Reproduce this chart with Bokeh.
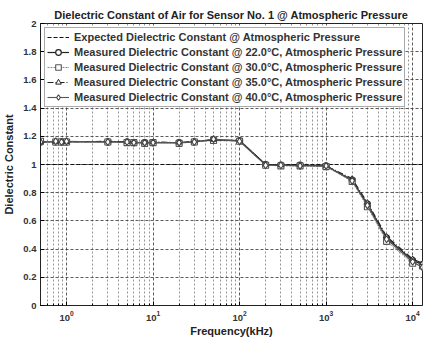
from bokeh.plotting import figure
from bokeh.models import FixedTicker, Legend, LegendItem, Range1d, LogTickFormatter
from bokeh.embed import file_html
from bokeh.resources import INLINE

freq = [0.5, 0.75, 0.875, 1, 3, 5, 6, 8, 10, 20, 30, 50, 100, 200, 300, 500, 1000, 2000, 3000, 5000, 10000, 13000]
expected = [1.0] * len(freq)
s22 = [1.16, 1.16, 1.16, 1.16, 1.16, 1.16, 1.155, 1.155, 1.155, 1.155, 1.16, 1.175, 1.17, 1.0, 0.995, 0.995, 0.99, 0.89, 0.72, 0.48, 0.32, 0.29]
s30 = [1.165, 1.16, 1.16, 1.16, 1.16, 1.155, 1.155, 1.15, 1.155, 1.15, 1.16, 1.17, 1.165, 0.995, 0.99, 0.99, 0.985, 0.88, 0.70, 0.455, 0.30, 0.28]
s35 = [1.16, 1.16, 1.165, 1.16, 1.165, 1.16, 1.16, 1.155, 1.16, 1.155, 1.165, 1.175, 1.17, 1.0, 0.995, 0.995, 0.99, 0.90, 0.73, 0.49, 0.33, 0.30]
s40 = [1.16, 1.165, 1.16, 1.165, 1.16, 1.16, 1.155, 1.155, 1.155, 1.155, 1.16, 1.18, 1.165, 0.995, 0.995, 0.99, 0.99, 0.885, 0.71, 0.47, 0.31, 0.27]

y_ticks = [0, 0.2, 0.4, 0.6, 0.8, 1.0, 1.2, 1.4, 1.6, 1.8, 2.0]
x_major = [1, 10, 100, 1000, 10000]
x_minor = [m * d for d in [0.1, 1, 10, 100, 1000] for m in range(2, 10)] + [1e4 * m for m in range(2, 10)]

FONT = "Liberation Sans"

p = figure(width=427, height=339, x_axis_type="log", output_backend="svg",
           toolbar_location=None, x_range=Range1d(0.5, 13000), y_range=Range1d(0, 2),
           min_border_left=38, min_border_right=5, min_border_top=23, min_border_bottom=32,
           title="Dielectric Constant of Air for Sensor No. 1 @ Atmospheric Pressure")
p.title.text_font = FONT
p.title.text_font_size = "11px"
p.title.text_font_style = "bold"
p.title.text_color = "#222222"
p.title.align = "center"
p.title.offset = 10
p.title.standoff = 5

p.outline_line_color = "#222222"
p.outline_line_width = 1
p.background_fill_color = "white"
p.border_fill_color = "white"

p.xaxis.ticker = FixedTicker(ticks=x_major, minor_ticks=x_minor)
p.xaxis.formatter = LogTickFormatter()
p.yaxis.ticker = FixedTicker(ticks=y_ticks)
for ax in (p.xaxis, p.yaxis):
    ax.major_label_text_font = FONT
    ax.major_label_text_font_size = "9.5px"
    ax.major_label_text_font_style = "bold"
    ax.major_label_text_color = "#333333"
    ax.axis_label_text_font = FONT
    ax.axis_label_text_font_size = "11px"
    ax.axis_label_text_font_style = "bold"
    ax.axis_label_text_color = "#222222"
    ax.axis_line_color = "#222222"
    ax.major_tick_in = 4
    ax.major_tick_out = 0
    ax.minor_tick_in = 2
    ax.minor_tick_out = 0
p.yaxis.minor_tick_line_color = None
p.xaxis.axis_label = "Frequency(kHz)"
p.yaxis.axis_label = "Dielectric Constant"
p.xaxis.axis_label_standoff = 1
p.yaxis.axis_label_standoff = 5
p.xaxis.major_label_standoff = 5
p.yaxis.major_label_standoff = 4

p.xgrid.grid_line_color = "#333333"
p.xgrid.grid_line_dash = "3 2"
p.xgrid.grid_line_alpha = 0.8
p.xgrid.minor_grid_line_color = "#666666"
p.xgrid.minor_grid_line_dash = "2 2"
p.xgrid.minor_grid_line_alpha = 0.7
p.ygrid.grid_line_color = "#333333"
p.ygrid.grid_line_dash = "3 2"
p.ygrid.grid_line_alpha = 0.8

r_exp = p.line(freq, expected, line_color="#111111", line_width=1.2, line_dash="4 2")

l22 = p.line(freq, s22, line_color="#222222", line_width=1.2)
m22 = p.scatter(freq, s22, marker="circle", size=6, line_color="#222222", fill_color="white", line_width=1.2)
l30 = p.line(freq, s30, line_color="#888888", line_width=1, line_dash="2 1")
m30 = p.scatter(freq, s30, marker="square", size=6, line_color="#555555", fill_color="white", line_width=1.1)
l35 = p.line(freq, s35, line_color="#222222", line_width=1.1, line_dash="6 2 1 2")
m35 = p.scatter(freq, s35, marker="triangle", size=5, line_color="#222222", fill_color="white", line_width=1)
l40 = p.line(freq, s40, line_color="#555555", line_width=1.1)
m40 = p.scatter(freq, s40, marker="diamond", size=7, line_color="#444444", fill_color="white", line_width=1.1)

legend = Legend(items=[
    LegendItem(label="Expected Dielectric Constant @ Atmospheric Pressure", renderers=[r_exp]),
    LegendItem(label="Measured Dielectric Constant @ 22.0\u00b0C, Atmospheric Pressure", renderers=[l22, m22]),
    LegendItem(label="Measured Dielectric Constant @ 30.0\u00b0C, Atmospheric Pressure", renderers=[l30, m30]),
    LegendItem(label="Measured Dielectric Constant @ 35.0\u00b0C, Atmospheric Pressure", renderers=[l35, m35]),
    LegendItem(label="Measured Dielectric Constant @ 40.0\u00b0C, Atmospheric Pressure", renderers=[l40, m40]),
], location="top_left")
legend.margin = 4
legend.padding = 2
legend.spacing = 1
legend.glyph_width = 22
legend.glyph_height = 14
legend.label_height = 14
legend.label_standoff = 5
legend.label_text_font = FONT
legend.label_text_font_size = "11px"
legend.label_text_font_style = "bold"
legend.label_text_color = "#333333"
legend.border_line_color = "#555555"
legend.border_line_width = 1.5
legend.background_fill_color = "white"
legend.background_fill_alpha = 1
p.add_layout(legend)

open("out.html", "w").write(file_html(p, INLINE))
